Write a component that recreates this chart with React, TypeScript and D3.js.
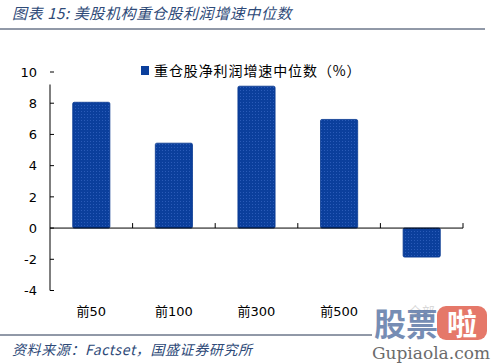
import React from 'react'
import * as d3 from 'd3'

const categories = ['前50', '前100', '前300', '前500', '全部']
const values = [8.06, 5.44, 9.09, 6.96, -1.86]
const yTicks = [-4, -2, 0, 2, 4, 6, 8, 10]
const legendLabel = '重仓股净利润增速中位数（%）'
const title = '图表 15:  美股机构重仓股利润增速中位数'
const source = '资料来源：Factset，国盛证券研究所'

const W = 491
const H = 363
const FONT = '"DejaVu Sans", "Noto Sans CJK SC", sans-serif'
const CJK = '"Noto Sans CJK SC", "DejaVu Sans", sans-serif'

export default function App() {
  const x = d3.scaleBand().domain(categories).range([50, 463]).paddingInner(0.55).paddingOuter(0.275)
  const y = d3.scaleLinear().domain([-4, 10]).range([290.5, 72])
  const boundaries = d3.range(1, categories.length + 1).map((i) => 50 + (i * (463 - 50)) / categories.length)

  return (
    <svg width={W} height={H} style={{ position: 'absolute', left: 0, top: 0, background: '#fff' }}>
      <defs>
        <pattern id="dots" width="3" height="3" patternUnits="userSpaceOnUse">
          <rect width="3" height="3" fill="#0b3f9c" />
          <rect width="1" height="1" fill="#2a5bb8" />
        </pattern>
      </defs>

      {/* title */}
      <text x={12} y={19} fontFamily={CJK} fontSize={15} fontStyle="italic" fill="#2e4a78" letterSpacing={0.6}>
        {title}
      </text>
      <line x1={0} x2={485} y1={29} y2={29} stroke="#223350" strokeWidth={1} />

      {/* y axis */}
      <line x1={50} x2={50} y1={y(9.2)} y2={y(-4)} stroke="#000" />
      {yTicks.map((t) => (
        <g key={t}>
          <line x1={50} x2={54} y1={y(t)} y2={y(t)} stroke="#000" />
          <text x={37} y={y(t)} dy="0.36em" textAnchor="end" fontFamily={FONT} fontSize={13} fill="#000">
            {t}
          </text>
        </g>
      ))}

      {/* bars */}
      {categories.map((c, i) => (
        <rect
          key={c}
          x={x(c)}
          width={x.bandwidth()}
          y={y(Math.max(0, values[i]))}
          height={Math.abs(y(values[i]) - y(0))}
          fill="url(#dots)"
          stroke="#0a3a90"
          strokeWidth={0.8}
          rx={1.5}
        />
      ))}

      {/* x axis */}
      <line x1={50} x2={463} y1={y(0)} y2={y(0)} stroke="#000" />
      {boundaries.map((b) => (
        <line key={b} x1={b} x2={b} y1={y(0) - 5} y2={y(0)} stroke="#000" />
      ))}
      {categories.map((c) => (
        <text
          key={c}
          x={(x(c) as number) + x.bandwidth() / 2}
          y={311}
          dy="0.36em"
          textAnchor="middle"
          fontFamily={FONT}
          fontSize={13}
          fill="#000"
          opacity={c === '全部' ? 0.15 : 1}
        >
          {c}
        </text>
      ))}

      {/* legend */}
      <rect x={141} y={66} width={8} height={9} fill="#0b3f9c" />
      <text x={154} y={71} dy="0.36em" fontFamily={CJK} fontSize={14} letterSpacing={0.9} fill="#000">
        {legendLabel}
      </text>

      {/* source */}
      <line x1={0} x2={372} y1={335} y2={335} stroke="#223350" strokeWidth={1} />
      <text x={12} y={355} fontFamily={CJK} fontSize={14} fontStyle="italic" fill="#2e4a78" letterSpacing={0.6}>
        {source}
      </text>

      {/* watermark */}
      <text x={374} y={336} fontFamily={CJK} fontSize={32} fontWeight="bold" fill="#5f7aa8" opacity={0.85}>
        股票
      </text>
      <rect x={437} y={306} width={50} height={34} rx={9} fill="#e0604f" opacity={0.85} />
      <text x={462} y={335} textAnchor="middle" fontFamily={CJK} fontSize={30} fontWeight="bold" fill="#fff">
        啦
      </text>
      <text x={431} y={359} textAnchor="middle" fontFamily='"DejaVu Serif", serif' fontSize={17} fill="#6b6b6b">
        Gupiaola.com
      </text>
    </svg>
  )
}
